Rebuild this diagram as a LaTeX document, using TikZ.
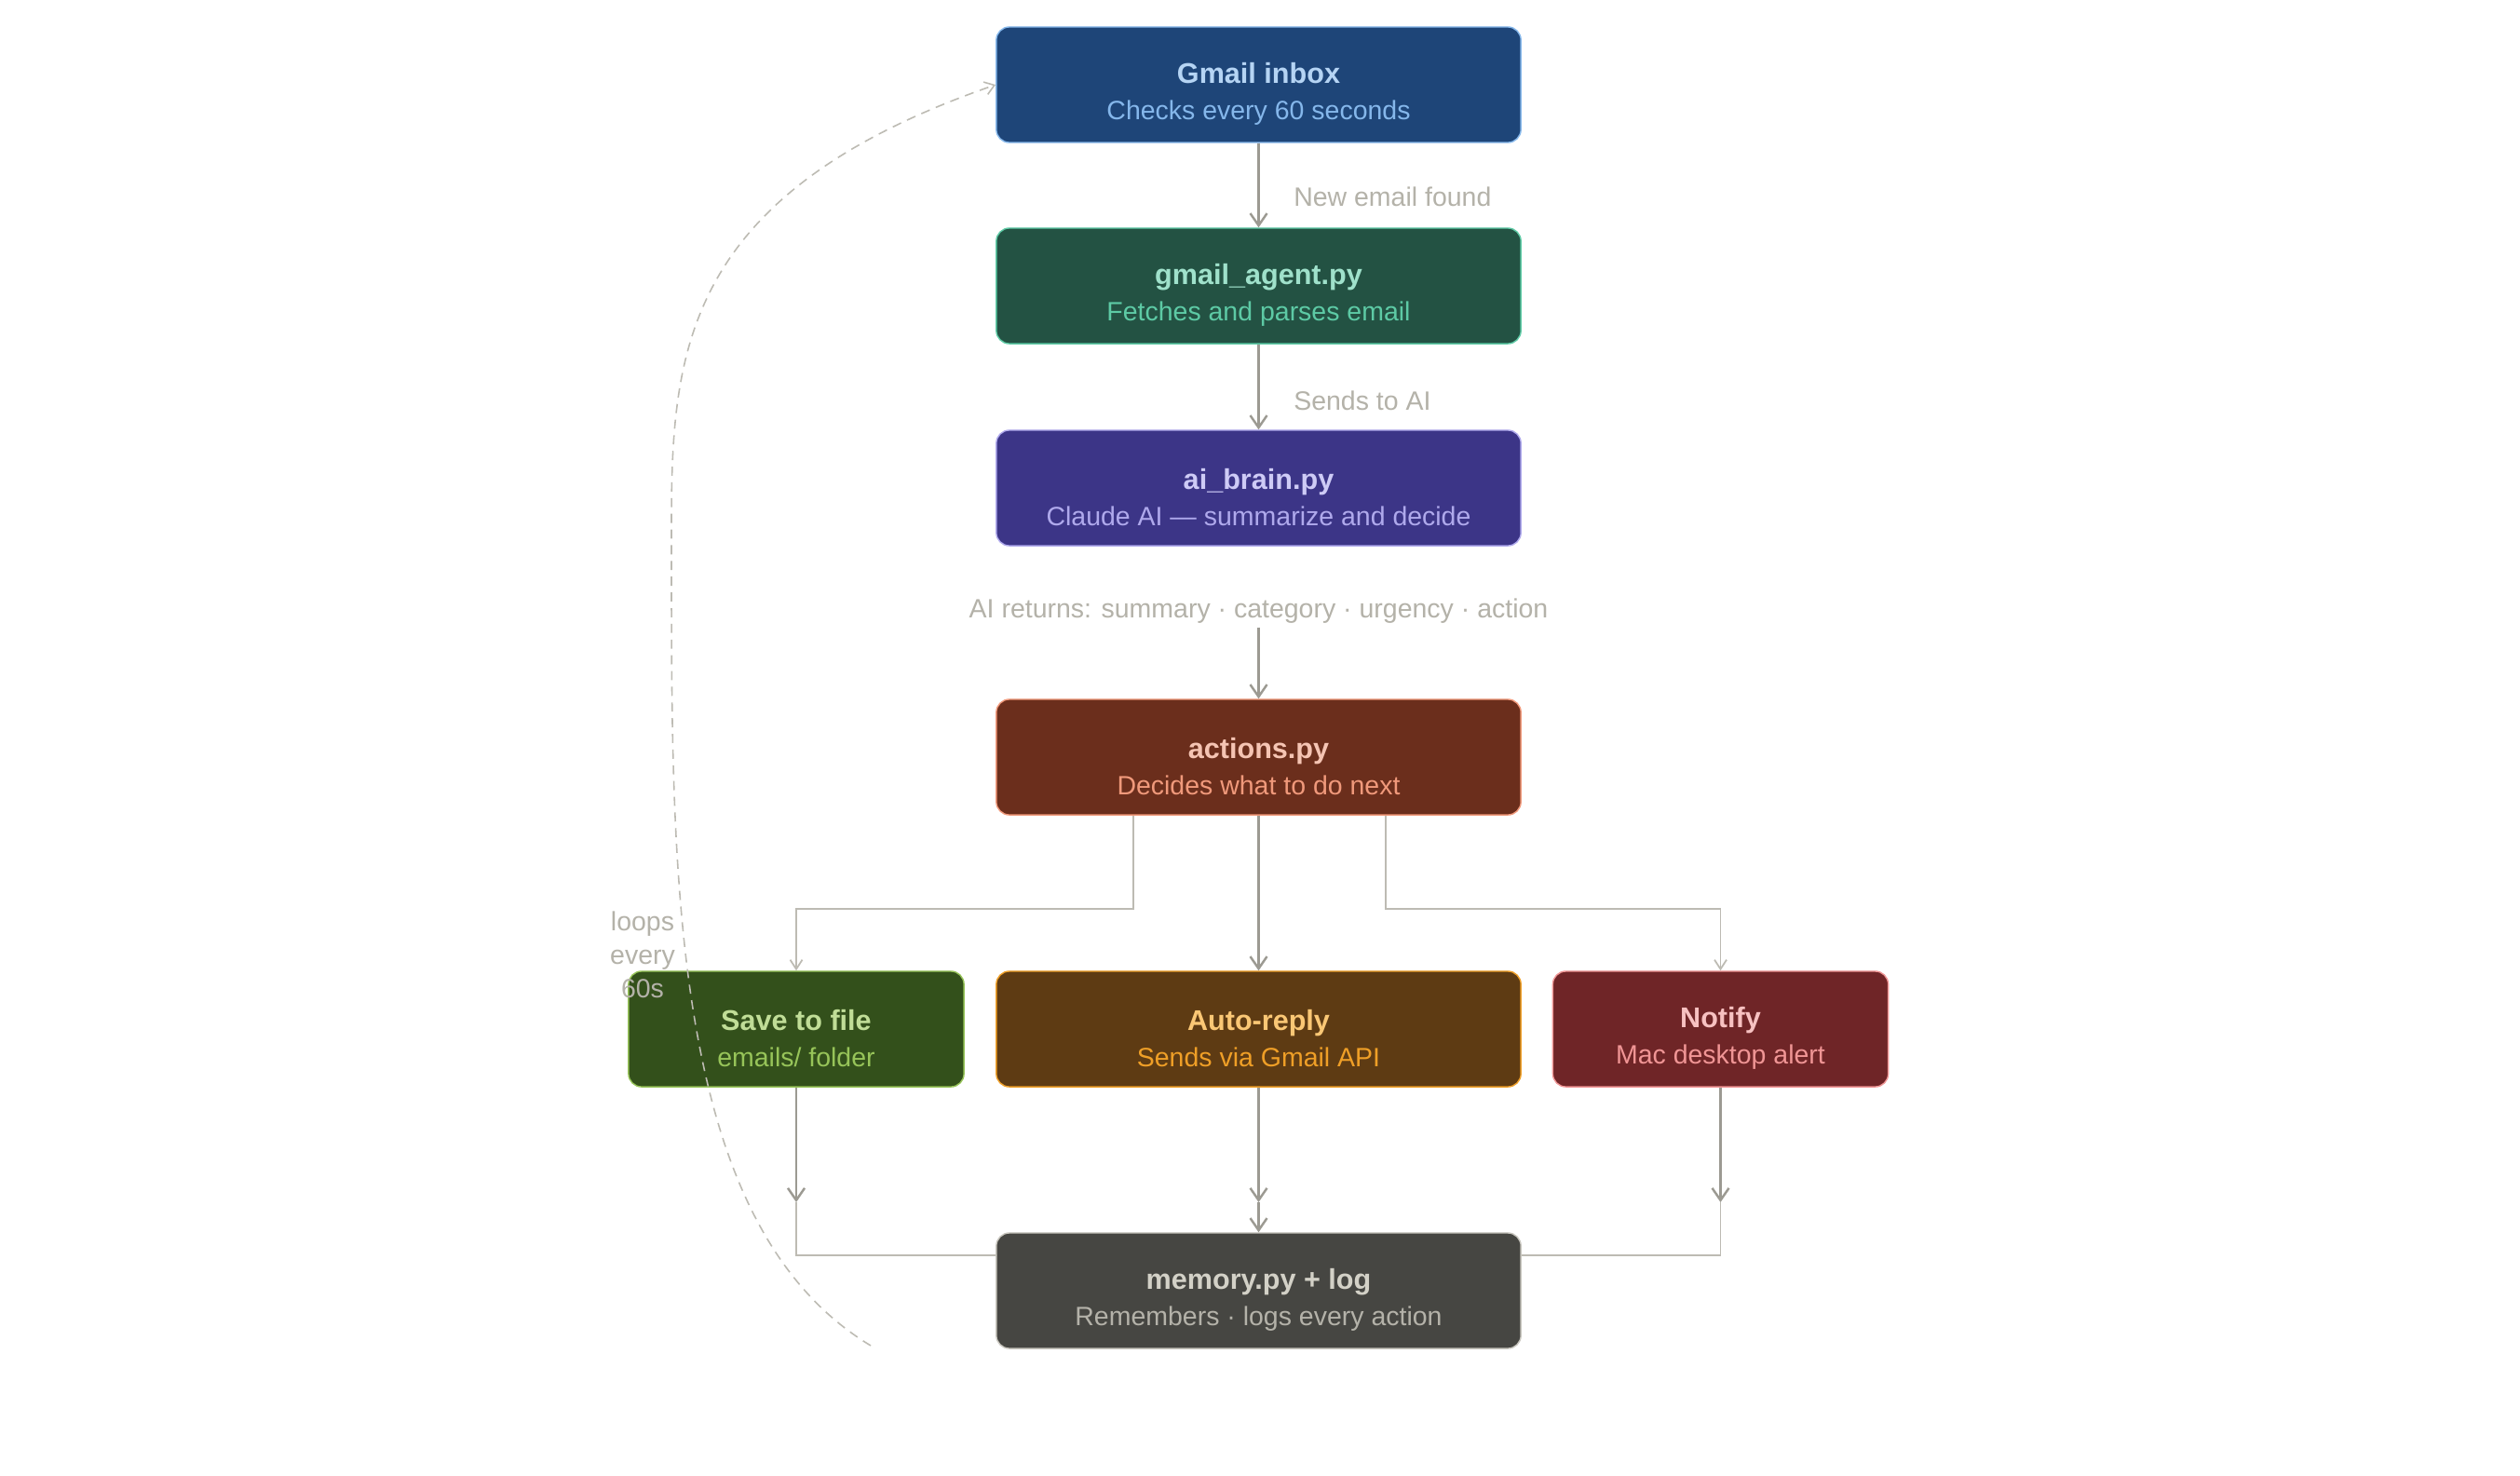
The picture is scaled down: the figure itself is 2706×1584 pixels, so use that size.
\documentclass[tikz,border=0pt]{standalone}
\usepackage{fontspec}
\setmainfont{Liberation Sans}
\usetikzlibrary{arrows.meta}

\definecolor{inboxfill}{HTML}{1E4578}
\definecolor{inboxline}{HTML}{85B7EB}
\definecolor{inboxhi}{HTML}{B5D4F4}
\definecolor{inboxlo}{HTML}{85B7EB}
\definecolor{agentfill}{HTML}{235243}
\definecolor{agentline}{HTML}{5DCAA5}
\definecolor{agenthi}{HTML}{9FE1CB}
\definecolor{agentlo}{HTML}{5DCAA5}
\definecolor{brainfill}{HTML}{3C3587}
\definecolor{brainline}{HTML}{AFA9EC}
\definecolor{brainhi}{HTML}{CECBF6}
\definecolor{brainlo}{HTML}{AFA9EC}
\definecolor{actfill}{HTML}{6B2E1C}
\definecolor{actline}{HTML}{F0997B}
\definecolor{acthi}{HTML}{F5C4B3}
\definecolor{actlo}{HTML}{F0997B}
\definecolor{savefill}{HTML}{33501B}
\definecolor{saveline}{HTML}{97C459}
\definecolor{savehi}{HTML}{C0DD97}
\definecolor{savelo}{HTML}{97C459}
\definecolor{replyfill}{HTML}{5E3B13}
\definecolor{replyline}{HTML}{EF9F27}
\definecolor{replyhi}{HTML}{FAC775}
\definecolor{replylo}{HTML}{EF9F27}
\definecolor{notifyfill}{HTML}{6F2527}
\definecolor{notifyline}{HTML}{F09595}
\definecolor{notifyhi}{HTML}{F7C1C1}
\definecolor{notifylo}{HTML}{F09595}
\definecolor{memfill}{HTML}{464642}
\definecolor{memline}{HTML}{C8C6BE}
\definecolor{memhi}{HTML}{D3D1C7}
\definecolor{memlo}{HTML}{B4B2A9}
\definecolor{flowgray}{HTML}{9C9A92}
\definecolor{linegray}{HTML}{BDBBB3}
\definecolor{notegray}{HTML}{B4B2A9}

\newcommand{\boxtitle}[1]{{\rule{0pt}{12pt}\bfseries\fontsize{8.7}{11.1}\selectfont #1}}

\begin{document}
\begin{tikzpicture}[
  x=0.01cm, y=-0.01cm,
  >={Straight Barb[length=1.3mm, width=1.8mm]},
  stagebox/.style={draw, rounded corners=1.4mm, line width=0.4pt, align=center,
    minimum width=5.63cm, minimum height=1.24cm, inner sep=0pt,
    font=\fontsize{8.1}{11.1}\selectfont},
  sidebox/.style={stagebox, minimum width=3.6cm},
  flow/.style={->, draw=flowgray, line width=0.7pt},
  branch/.style={draw=linegray, line width=0.5pt},
  note/.style={text=notegray, font=\fontsize{8.1}{10.2}\selectfont, align=center, inner sep=1pt},
  loopline/.style={->, draw=linegray, line width=0.45pt, dash pattern=on 2.8pt off 2pt}
]
  \fill[white] (0,0) rectangle (2706,1584);
  \useasboundingbox (0,0) rectangle (2706,1584);

  \node[stagebox, fill=inboxfill, draw=inboxline] (inbox) at (1351.5,91)
    {\textcolor{inboxhi}{\boxtitle{Gmail inbox}}\\\textcolor{inboxlo}{Checks every 60 seconds}};
  \node[stagebox, fill=agentfill, draw=agentline] (agent) at (1351.5,307)
    {\textcolor{agenthi}{\boxtitle{gmail\_agent.py}}\\\textcolor{agentlo}{Fetches and parses email}};
  \node[stagebox, fill=brainfill, draw=brainline] (brain) at (1351.5,524)
    {\textcolor{brainhi}{\boxtitle{ai\_brain.py}}\\\textcolor{brainlo}{Claude AI — summarize and decide}};
  \node[note] (ret) at (1351.5,656) {AI returns: summary · category · urgency · action};
  \node[stagebox, fill=actfill, draw=actline] (actions) at (1351.5,813)
    {\textcolor{acthi}{\boxtitle{actions.py}}\\\textcolor{actlo}{Decides what to do next}};
  \node[sidebox, fill=savefill, draw=saveline] (save) at (855,1105)
    {\textcolor{savehi}{\boxtitle{Save to file}}\\\textcolor{savelo}{emails/ folder}};
  \node[stagebox, fill=replyfill, draw=replyline] (reply) at (1351.5,1105)
    {\textcolor{replyhi}{\boxtitle{Auto-reply}}\\\textcolor{replylo}{Sends via Gmail API}};
  \node[sidebox, fill=notifyfill, draw=notifyline] (notify) at (1847.5,1105)
    {\textcolor{notifyhi}{\boxtitle{Notify}}\\\textcolor{notifylo}{Mac desktop alert}};
  \node[stagebox, fill=memfill, draw=memline] (memory) at (1351.5,1386)
    {\textcolor{memhi}{\boxtitle{memory.py + log}}\\\textcolor{memlo}{Remembers · logs every action}};

  % main flow
  \draw[flow] (inbox) -- node[note, pos=0.64, anchor=west, xshift=3.3mm] {New email found} (agent);
  \draw[flow] (agent) -- node[note, pos=0.66, anchor=west, xshift=3.3mm] {Sends to AI} (brain);
  \draw[flow] (ret) -- (actions);

  % split into the three actions
  \draw[branch, ->, >={Straight Barb[length=1mm, width=1.3mm]}]
    ([xshift=-1.345cm]actions.south) -- ++(0,100) -| (save.north);
  \draw[branch, ->, >={Straight Barb[length=1mm, width=1.3mm]}]
    ([xshift=1.365cm]actions.south) -- ++(0,100) -| (notify.north);
  \draw[flow] (actions) -- (reply);

  % everything ends in memory
  \coordinate (savedrop) at (855,1291);
  \coordinate (replydrop) at (1351.5,1291);
  \coordinate (notifydrop) at (1847.5,1291);
  \draw[flow] (save) -- (savedrop);
  \draw[flow] (reply) -- (replydrop);
  \draw[flow] (notify) -- (notifydrop);
  \draw[branch] (savedrop) |- ([yshift=0.38cm]memory.west);
  \draw[branch] (notifydrop) |- ([yshift=0.38cm]memory.east);
  \draw[flow] (replydrop) -- (memory);

  % loop back to the inbox
  \coordinate (loopstart) at (935,1445);
  \coordinate (loopturn) at (721,600);
  \draw[loopline, >={Straight Barb[length=1mm, width=1.4mm]}]
    (loopstart) .. controls (721,1316) and (721,950) .. (loopturn)
    .. controls (721,400) and (711,215) .. (inbox.west);
  \node[note] (loopnote) at (690,1025) {loops\\every\\60s};
\end{tikzpicture}
\end{document}
